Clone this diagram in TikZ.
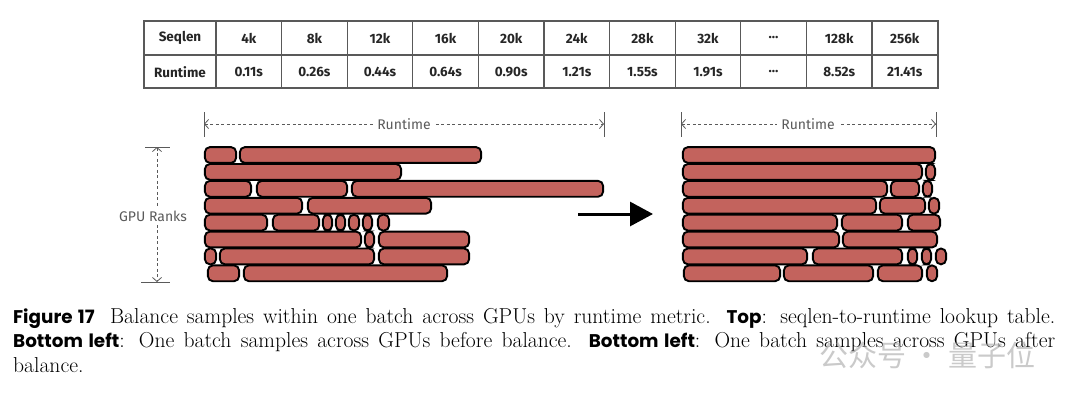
\documentclass[tikz,border=0pt]{standalone}
\usepackage{fontspec}
\setsansfont{Fira Sans}
\newfontfamily\capfont{Poppins}[Scale=0.85]
\newfontfamily\wmfont{Noto Sans CJK SC}
\usepackage{xcolor}
\usepackage{tikz}
\usetikzlibrary{arrows.meta}
\definecolor{barred}{RGB}{195,99,93}
\definecolor{dimgrey}{RGB}{90,90,90}

\begin{document}
\begin{tikzpicture}[x=1pt,y=-1pt,
  sample/.style={draw=black, line width=1.9pt, fill=barred, rounded corners=5pt},
  dimline/.style={dimgrey, line width=0.8pt, dash pattern=on 3pt off 2.5pt},
  dimtick/.style={dimgrey, line width=0.9pt},
  dimlabel/.style={fill=white, text=dimgrey, inner sep=4pt, font=\sffamily\fontsize{14}{16}\selectfont},
  cell/.style={text=black!85, font=\sffamily\bfseries\fontsize{13.5}{15}\selectfont},
  grid/.style={black!65, line width=1.1pt}]
\useasboundingbox (0,0) rectangle (1080,394);

% Lookup table
\draw[grid] (144,21) rectangle (938,88);
\draw[grid] (144,55) -- (938,55);
\foreach \i in {0,...,10}
  \draw[grid] ({216+65.6*\i},21) -- ({216+65.6*\i},88);
\node[cell] (seqlen) at (180,38) {Seqlen};
\node[cell] (runtime) at (180,72) {Runtime};
\foreach \s/\t [count=\i] in {4k/0.11s,8k/0.26s,12k/0.44s,16k/0.64s,20k/0.90s,24k/1.21s,28k/1.55s,32k/1.91s,\ldots/\ldots,128k/8.52s,256k/21.41s} {
  \node[cell] (len\i) at ({216+65.6*(\i-0.5)},38) {\s};
  \node[cell] (time\i) at ({216+65.6*(\i-0.5)},72) {\t};
}

% Samples per GPU rank, before balance
\foreach \r/\segs in {0/{204/237,239/482},1/{204/402},2/{204/252,256/348,351/604},
  3/{204/303,307/432},4/{204/268,272/320,322/333,335/346,348/360,362/373,377/390},
  5/{204/362,364/375,378/470},6/{204/217,219/375,378/470},7/{207/240,243/448}} {
  \foreach \a/\b in \segs
    \draw[sample] ({\a+0.9},{155+16.9*\r-7.9}) rectangle ({\b-0.9},{155+16.9*\r+7.9});
}

% Samples per GPU rank, after balance
\foreach \r/\segs in {0/{682/936},1/{682/923,925/936},2/{682/888,890/920,922/933},
  3/{682/877,879/926,928/940},4/{682/838,841/903,907/941},5/{682/840,842/938},
  6/{682/808,812/903,907/918,921/932,935/947},7/{683/781,783/874,877/923,926/938}} {
  \foreach \a/\b in \segs
    \draw[sample] ({\a+0.9},{155+16.9*\r-7.9}) rectangle ({\b-0.9},{155+16.9*\r+7.9});
}

% Runtime spans
\draw[dimtick] (204,112) -- (204,137);
\draw[dimtick] (604,112) -- (604,137);
\draw[dimline, {Straight Barb[length=4pt,width=9pt]}-{Straight Barb[length=4pt,width=9pt]}] (204,124) -- (604,124);
\node[dimlabel] (rtleft) at (404,124) {Runtime};
\draw[dimtick] (681,112) -- (681,137);
\draw[dimtick] (936,112) -- (936,137);
\draw[dimline, {Straight Barb[length=4pt,width=9pt]}-{Straight Barb[length=4pt,width=9pt]}] (681,124) -- (936,124);
\node[dimlabel] (rtright) at (808,124) {Runtime};

% GPU ranks span
\draw[dimtick] (145,147) -- (170,147);
\draw[dimtick] (141,282) -- (170,282);
\draw[dimline, {Straight Barb[length=4pt,width=9pt]}-{Straight Barb[length=4pt,width=9pt]}] (157,147) -- (157,282);
\node[dimlabel] (ranks) at (153,216) {GPU Ranks};

% Balance arrow
\coordinate (before) at (578,214);
\coordinate (after) at (653,214);
\draw[line width=3pt, -{Triangle[length=23pt,width=24pt]}] (before) -- (after);

% Caption
\node[anchor=base west, inner sep=0pt, text width=1042pt, align=justify,
  font=\fontsize{21.6}{24.5}\selectfont] (caption) at (13,323)
  {{\capfont\bfseries Figure 17}\hspace{0.3em} Balance samples within one batch across GPUs by runtime metric. {\capfont\bfseries Top}: seqlen-to-runtime lookup table.\linebreak
  {\capfont\bfseries Bottom left}: One batch samples across GPUs before balance. {\capfont\bfseries Bottom left}: One batch samples across GPUs after\linebreak
  balance.};

% Watermark
\node[text=black!35, opacity=0.6, font=\wmfont\fontsize{29}{29}\selectfont] (mark) at (927,355) {公众号 · 量子位};
\end{tikzpicture}
\end{document}
